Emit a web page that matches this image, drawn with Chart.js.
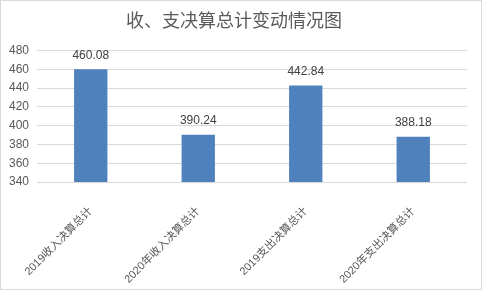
<!DOCTYPE html>
<html>
<head>
<meta charset="utf-8">
<script src="https://cdn.jsdelivr.net/npm/chart.js@4/dist/chart.umd.min.js"></script>
<style>
  html, body { margin: 0; padding: 0; background: #fff; }
  #wrap { width: 482px; height: 290px; box-sizing: border-box; border: 1px solid #d9d9d9; }
</style>
</head>
<body>
<div id="wrap"><canvas id="budgetChart" width="480" height="288"></canvas></div>
<script>
// Chart data
const categories = ['2019收入决算总计', '2020年收入决算总计', '2019支出决算总计', '2020年支出决算总计'];
const totals = [460.08, 390.24, 442.84, 388.18];
const yTicks = [340, 360, 380, 400, 420, 440, 460, 480];

const fontFamily = '"Liberation Sans", "Noto Sans CJK SC", sans-serif';

// value labels above each bar
const valueLabels = {
    id: 'valueLabels',
    afterDatasetsDraw(chart) {
        const ctx = chart.ctx;
        const meta = chart.getDatasetMeta(0);
        ctx.save();
        ctx.font = '12px ' + fontFamily;
        ctx.fillStyle = '#404040';
        ctx.textAlign = 'center';
        ctx.textBaseline = 'bottom';
        meta.data.forEach((bar, i) => {
            ctx.fillText(totals[i].toFixed(2), bar.x, bar.y - 8);
        });
        ctx.restore();
    }
};

new Chart(document.getElementById('budgetChart').getContext('2d'), {
    type: 'bar',
    data: {
        labels: categories,
        datasets: [{
            data: totals,
            backgroundColor: '#4f81bd',
            barPercentage: 0.31,
            categoryPercentage: 1
        }]
    },
    options: {
        responsive: false,
        animation: false,
        layout: { padding: { top: 0, right: 14, left: 0, bottom: 0 } },
        plugins: {
            legend: { display: false },
            tooltip: { enabled: false },
            title: {
                display: true,
                text: '收、支决算总计变动情况图',
                color: '#595959',
                font: { size: 18, family: fontFamily, weight: 'normal' },
                padding: { top: 10, bottom: 18 }
            }
        },
        scales: {
            x: {
                grid: { display: false },
                border: { display: false },
                ticks: {
                    color: '#595959',
                    font: { size: 11, family: fontFamily },
                    minRotation: 45,
                    maxRotation: 45,
                    padding: 15
                },
                afterFit(scale) { scale.height = 107; }
            },
            y: {
                min: 340,
                max: 480,
                afterBuildTicks(scale) { scale.ticks = yTicks.map(v => ({ value: v })); },
                grid: { color: '#d9d9d9', drawTicks: false },
                border: { display: false },
                ticks: {
                    color: '#595959',
                    font: { size: 12, family: fontFamily },
                    padding: 8
                },
                afterFit(scale) { scale.width = 36; }
            }
        }
    },
    plugins: [valueLabels]
});
</script>
</body>
</html>
